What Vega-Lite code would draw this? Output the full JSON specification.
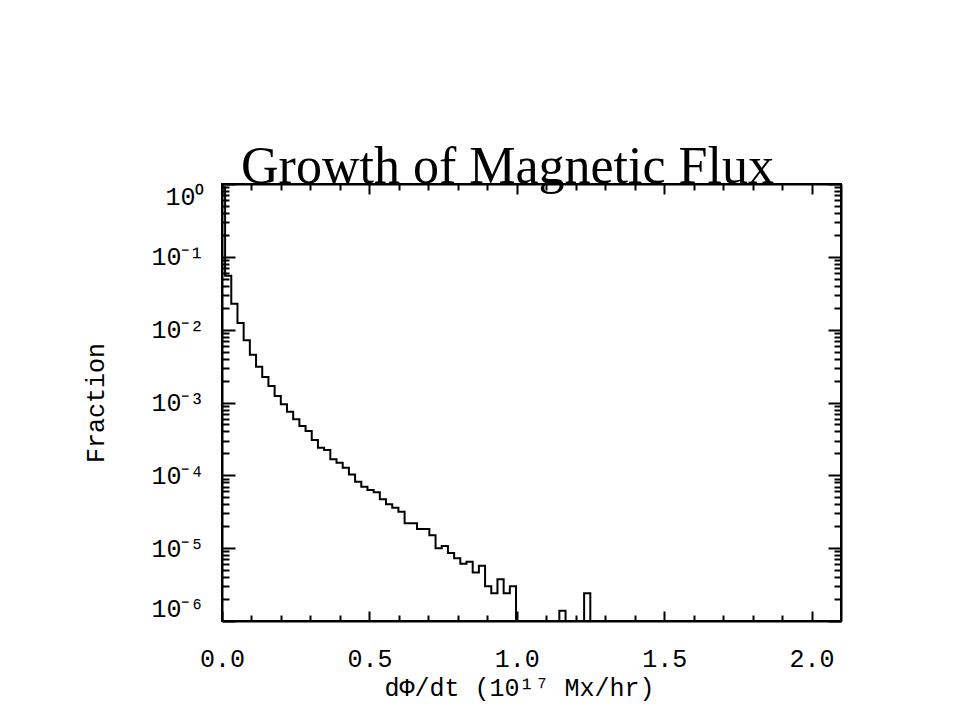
{
  "$schema": "https://vega.github.io/schema/vega-lite/v6.json",
  "width": 619,
  "height": 437,
  "autosize": "none",
  "padding": {"left": 222, "top": 184, "right": 118, "bottom": 100},
  "background": "white",
  "title": {"text": "Growth of Magnetic Flux", "font": "Liberation Serif", "fontSize": 52, "fontWeight": "normal", "color": "black", "baseline": "alphabetic", "offset": 2, "dx": -24, "dy": 54},
  "data": {"values": [
    {"x": 0, "frac": 0.9}, {"x": 0.021, "frac": 0.055}, {"x": 0.042, "frac": 0.0227}, {"x": 0.063, "frac": 0.0123},
    {"x": 0.084, "frac": 0.00714}, {"x": 0.105, "frac": 0.00453}, {"x": 0.126, "frac": 0.0031}, {"x": 0.147, "frac": 0.00224},
    {"x": 0.168, "frac": 0.00168}, {"x": 0.189, "frac": 0.00123}, {"x": 0.21, "frac": 0.000944}, {"x": 0.231, "frac": 0.000747},
    {"x": 0.252, "frac": 0.000587}, {"x": 0.273, "frac": 0.000475}, {"x": 0.294, "frac": 0.000406}, {"x": 0.315, "frac": 0.000306},
    {"x": 0.336, "frac": 0.000239}, {"x": 0.357, "frac": 0.000223}, {"x": 0.378, "frac": 0.000166}, {"x": 0.399, "frac": 0.000149},
    {"x": 0.42, "frac": 0.000127}, {"x": 0.441, "frac": 0.000103}, {"x": 0.462, "frac": 8.17e-5}, {"x": 0.483, "frac": 6.98e-5},
    {"x": 0.504, "frac": 6.29e-5}, {"x": 0.525, "frac": 5.84e-5}, {"x": 0.546, "frac": 4.69e-5}, {"x": 0.567, "frac": 4.0e-5},
    {"x": 0.588, "frac": 3.59e-5}, {"x": 0.609, "frac": 3.16e-5}, {"x": 0.63, "frac": 2.19e-5}, {"x": 0.651, "frac": 2.19e-5},
    {"x": 0.672, "frac": 1.83e-5}, {"x": 0.693, "frac": 1.83e-5}, {"x": 0.714, "frac": 1.5e-5}, {"x": 0.735, "frac": 9.95e-6},
    {"x": 0.756, "frac": 1.07e-5}, {"x": 0.777, "frac": 8.57e-6}, {"x": 0.798, "frac": 7.26e-6}, {"x": 0.819, "frac": 6.11e-6},
    {"x": 0.84, "frac": 6.51e-6}, {"x": 0.861, "frac": 4.63e-6}, {"x": 0.882, "frac": 5.74e-6}, {"x": 0.903, "frac": 3.0e-6},
    {"x": 0.924, "frac": 2.4e-6}, {"x": 0.945, "frac": 3.73e-6}, {"x": 0.966, "frac": 2.4e-6}, {"x": 0.987, "frac": 3.0e-6},
    {"x": 1.008, "frac": 0}, {"x": 1.029, "frac": 0}, {"x": 1.05, "frac": 0}, {"x": 1.071, "frac": 0},
    {"x": 1.092, "frac": 0}, {"x": 1.113, "frac": 0}, {"x": 1.134, "frac": 0}, {"x": 1.155, "frac": 1.38e-6},
    {"x": 1.176, "frac": 0}, {"x": 1.197, "frac": 0}, {"x": 1.218, "frac": 0}, {"x": 1.239, "frac": 2.4e-6},
    {"x": 1.26, "frac": 0}, {"x": 1.281, "frac": 0}, {"x": 1.302, "frac": 0}, {"x": 1.323, "frac": 0},
    {"x": 1.344, "frac": 0}, {"x": 1.365, "frac": 0}, {"x": 1.386, "frac": 0}, {"x": 1.407, "frac": 0},
    {"x": 1.428, "frac": 0}, {"x": 1.449, "frac": 0}, {"x": 1.47, "frac": 0}, {"x": 1.491, "frac": 0},
    {"x": 1.512, "frac": 0}, {"x": 1.533, "frac": 0}, {"x": 1.554, "frac": 0}, {"x": 1.575, "frac": 0},
    {"x": 1.596, "frac": 0}, {"x": 1.617, "frac": 0}, {"x": 1.638, "frac": 0}, {"x": 1.659, "frac": 0},
    {"x": 1.68, "frac": 0}, {"x": 1.701, "frac": 0}, {"x": 1.722, "frac": 0}, {"x": 1.743, "frac": 0},
    {"x": 1.764, "frac": 0}, {"x": 1.785, "frac": 0}, {"x": 1.806, "frac": 0}, {"x": 1.827, "frac": 0},
    {"x": 1.848, "frac": 0}, {"x": 1.869, "frac": 0}, {"x": 1.89, "frac": 0}, {"x": 1.911, "frac": 0},
    {"x": 1.932, "frac": 0}, {"x": 1.953, "frac": 0}, {"x": 1.974, "frac": 0}, {"x": 1.995, "frac": 0},
    {"x": 2.016, "frac": 0}, {"x": 2.037, "frac": 0}, {"x": 2.058, "frac": 0}, {"x": 2.079, "frac": 0},
    {"x": 2.1, "frac": 0}
  ]},
  "config": {
    "view": {"stroke": "black", "strokeWidth": 2},
    "axis": {"domainColor": "black", "domainWidth": 2, "tickColor": "black", "tickWidth": 2, "grid": false,
             "labelColor": "black", "titleColor": "black", "labelFont": "Liberation Mono", "labelFontSize": 25,
             "titleFont": "Liberation Mono", "titleFontSize": 25, "titleFontWeight": "normal", "labelOverlap": false}
  },
  "resolve": {"axis": {"x": "independent", "y": "independent"}},
  "layer": [
    {
      "mark": {"type": "line", "interpolate": "step", "color": "black", "strokeWidth": 2, "clip": true},
      "encoding": {
        "x": {"field": "x", "type": "quantitative",
              "scale": {"domain": [0, 2.1], "nice": false, "zero": false},
              "axis": {"orient": "bottom", "values": [0, 0.5, 1, 1.5, 2], "format": ".1f", "tickSize": -10, "labelPadding": 35, "labelFlush": false,
                       "title": "dΦ/dt (10¹⁷ Mx/hr)", "titlePadding": 4, "titleX": 297}},
        "y": {"field": "frac", "type": "quantitative",
              "scale": {"type": "log", "domain": [1e-6, 1], "clamp": true, "nice": false},
              "axis": {"orient": "left", "values": [1, 0.1, 0.01, 0.001, 0.0001, 1e-5, 1e-6], "tickSize": -13, "labelPadding": 31, "labelFlush": true,
                       "labelExpr": "datum.value > 0.5 ? '10⁰' : datum.value > 0.05 ? '10⁻¹' : datum.value > 0.005 ? '10⁻²' : datum.value > 0.0005 ? '10⁻³' : datum.value > 0.00005 ? '10⁻⁴' : datum.value > 0.000005 ? '10⁻⁵' : '10⁻⁶'",
                       "title": "Fraction", "titlePadding": 42}}
      }
    },
    {
      "mark": {"type": "point", "opacity": 0},
      "encoding": {
        "x": {"field": "x", "type": "quantitative",
              "scale": {"domain": [0, 2.1], "nice": false, "zero": false},
              "axis": {"orient": "bottom", "values": [0.1, 0.2, 0.3, 0.4, 0.6, 0.7, 0.8, 0.9, 1.1, 1.2, 1.3, 1.4, 1.6, 1.7, 1.8, 1.9], "tickSize": -6, "labels": false, "domain": false, "title": null}},
        "y": {"field": "frac", "type": "quantitative",
              "scale": {"type": "log", "domain": [1e-6, 1], "clamp": true, "nice": false},
              "axis": {"orient": "left", "values": [2e-6, 3e-6, 4e-6, 5e-6, 6e-6, 7e-6, 8e-6, 9e-6, 2e-5, 3e-5, 4e-5, 5e-5, 6e-5, 7e-5, 8e-5, 9e-5, 2e-4, 3e-4, 4e-4, 5e-4, 6e-4, 7e-4, 8e-4, 9e-4, 0.002, 0.003, 0.004, 0.005, 0.006, 0.007, 0.008, 0.009, 0.02, 0.03, 0.04, 0.05, 0.06, 0.07, 0.08, 0.09, 0.2, 0.3, 0.4, 0.5, 0.6, 0.7, 0.8, 0.9], "tickSize": -7, "labels": false, "domain": false, "title": null}}
      }
    },
    {
      "mark": {"type": "point", "opacity": 0},
      "encoding": {
        "x": {"field": "x", "type": "quantitative",
              "scale": {"domain": [0, 2.1], "nice": false, "zero": false},
              "axis": {"orient": "top", "values": [0, 0.5, 1, 1.5, 2], "tickSize": -10, "labels": false, "title": null}},
        "y": {"field": "frac", "type": "quantitative",
              "scale": {"type": "log", "domain": [1e-6, 1], "clamp": true, "nice": false},
              "axis": {"orient": "right", "values": [1, 0.1, 0.01, 0.001, 0.0001, 1e-5, 1e-6], "tickSize": -13, "labels": false, "title": null}}
      }
    },
    {
      "mark": {"type": "point", "opacity": 0},
      "encoding": {
        "x": {"field": "x", "type": "quantitative",
              "scale": {"domain": [0, 2.1], "nice": false, "zero": false},
              "axis": {"orient": "top", "values": [0.1, 0.2, 0.3, 0.4, 0.6, 0.7, 0.8, 0.9, 1.1, 1.2, 1.3, 1.4, 1.6, 1.7, 1.8, 1.9], "tickSize": -6, "labels": false, "domain": false, "title": null}},
        "y": {"field": "frac", "type": "quantitative",
              "scale": {"type": "log", "domain": [1e-6, 1], "clamp": true, "nice": false},
              "axis": {"orient": "right", "values": [2e-6, 3e-6, 4e-6, 5e-6, 6e-6, 7e-6, 8e-6, 9e-6, 2e-5, 3e-5, 4e-5, 5e-5, 6e-5, 7e-5, 8e-5, 9e-5, 2e-4, 3e-4, 4e-4, 5e-4, 6e-4, 7e-4, 8e-4, 9e-4, 0.002, 0.003, 0.004, 0.005, 0.006, 0.007, 0.008, 0.009, 0.02, 0.03, 0.04, 0.05, 0.06, 0.07, 0.08, 0.09, 0.2, 0.3, 0.4, 0.5, 0.6, 0.7, 0.8, 0.9], "tickSize": -7, "labels": false, "domain": false, "title": null}}
      }
    }
  ]
}
